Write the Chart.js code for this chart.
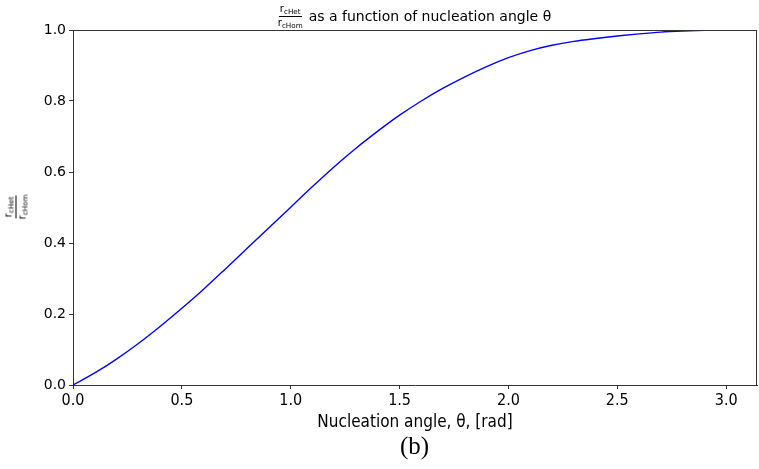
<!DOCTYPE html>
<html>
<head>
<meta charset="utf-8">
<script src="https://cdn.jsdelivr.net/npm/chart.js@4/dist/chart.umd.min.js"></script>
<style>
  body { margin: 0; background: #fff; }
  #wrap { position: relative; width: 759px; height: 469px; }
  .frac { display: inline-flex; flex-direction: column; align-items: center; font-family: "DejaVu Sans", sans-serif; line-height: 1; }
  .frac .num { border-bottom: 1px solid #000; padding: 0 1px 1px 1px; }
  .frac .den { padding-top: 1px; }
  .frac sub { font-size: 0.72em; vertical-align: -0.25em; }
  #title { position: absolute; left: 0; width: 759px; top: 4px; text-align: center; padding-left: 70px; box-sizing: border-box;
           font-family: "DejaVu Sans", sans-serif; font-size: 14px; color: #000; white-space: nowrap; }
  #title .frac { font-size: 10px; vertical-align: middle; margin-right: 6px; }
  #ylab { position: absolute; left: 16px; top: 207px; transform: translate(-50%, -50%) rotate(-90deg); font-size: 10px; }
  #caption { position: absolute; left: 0; width: 759px; top: 432px; padding-left: 70px; box-sizing: border-box; text-align: center;
             font-family: "Liberation Serif", "Times New Roman", serif; font-size: 25px; color: #000; }
</style>
</head>
<body>
<div id="wrap">
  <canvas id="ratioChart" width="759" height="469"></canvas>
  <div id="title"><span class="frac"><span class="num">r<sub>cHet</sub></span><span class="den">r<sub>cHom</sub></span></span>as a function of nucleation angle θ</div>
  <div id="ylab" class="frac"><span class="num">r<sub>cHet</sub></span><span class="den">r<sub>cHom</sub></span></div>
  <div id="caption">(b)</div>
</div>
<script>
// nucleation angle (rad) and the ratio
var thetaValues = [0.0, 0.1, 0.2, 0.3, 0.4, 0.5, 0.6, 0.7, 0.8, 0.9, 1.0,
                   1.1, 1.2, 1.3, 1.4, 1.5, 1.6, 1.7, 1.8, 1.9, 2.0,
                   2.1, 2.2, 2.3, 2.4, 2.5, 2.6, 2.7, 2.8, 2.9, 3.0, 3.1, 3.1416];
var ratioValues = [0.000, 0.034, 0.073, 0.117, 0.165, 0.216, 0.270, 0.327, 0.385, 0.443, 0.501,
                   0.559, 0.615, 0.667, 0.715, 0.760, 0.800, 0.836, 0.868, 0.897, 0.922,
                   0.942, 0.957, 0.968, 0.976, 0.983, 0.989, 0.994, 0.997, 0.999, 1.000, 1.000, 1.000];
var xTicks = [0.0, 0.5, 1.0, 1.5, 2.0, 2.5, 3.0];
var yTicks = [0.0, 0.2, 0.4, 0.6, 0.8, 1.0];

var points = thetaValues.map(function (t, i) { return { x: t, y: ratioValues[i] }; });

// draws the top and right spines like matplotlib
var frame = {
    id: 'frame',
    afterDraw: function (chart) {
        var a = chart.chartArea, ctx = chart.ctx;
        ctx.save();
        ctx.strokeStyle = '#333';
        ctx.lineWidth = 1;
        ctx.beginPath();
        ctx.moveTo(a.left, a.top + 0.5);
        ctx.lineTo(a.right, a.top + 0.5);
        ctx.moveTo(a.right - 0.5, a.top);
        ctx.lineTo(a.right - 0.5, a.bottom);
        ctx.stroke();
        ctx.restore();
    }
};

new Chart(document.getElementById('ratioChart').getContext('2d'), {
    type: 'line',
    data: {
        datasets: [{
            data: points,
            borderColor: '#0000ff',
            borderWidth: 1.4,
            pointRadius: 0,
            fill: false,
            cubicInterpolationMode: 'monotone'
        }]
    },
    options: {
        responsive: false,
        animation: false,
        layout: { padding: { left: 0, top: 30, right: 2, bottom: 34 } },
        plugins: { legend: { display: false }, tooltip: { enabled: false } },
        scales: {
            x: {
                type: 'linear',
                min: 0,
                max: Math.PI,
                afterBuildTicks: function (s) { s.ticks = xTicks.map(function (v) { return { value: v }; }); },
                afterFit: function (s) { s.height = 50; },
                grid: { drawOnChartArea: false, drawTicks: true, tickLength: 4, color: '#333' },
                border: { display: true, color: '#333' },
                ticks: {
                    padding: 2,
                    color: '#000',
                    font: { family: '"DejaVu Sans Condensed", "DejaVu Sans", sans-serif', size: 16 },
                    callback: function (v) { return v.toFixed(1); }
                },
                title: {
                    display: true,
                    text: 'Nucleation angle, θ, [rad]',
                    color: '#000',
                    font: { family: '"DejaVu Sans Condensed", "DejaVu Sans", sans-serif', size: 17 },
                    padding: { top: 2, bottom: 2 }
                }
            },
            y: {
                min: 0,
                max: 1,
                afterBuildTicks: function (s) { s.ticks = yTicks.map(function (v) { return { value: v }; }); },
                afterFit: function (s) { s.width = 73; },
                grid: { drawOnChartArea: false, drawTicks: true, tickLength: 4, color: '#333' },
                border: { display: true, color: '#333' },
                ticks: {
                    padding: 3,
                    color: '#000',
                    font: { family: '"DejaVu Sans", sans-serif', size: 14 },
                    callback: function (v) { return v.toFixed(1); }
                }
            }
        }
    },
    plugins: [frame]
});
</script>
</body>
</html>
